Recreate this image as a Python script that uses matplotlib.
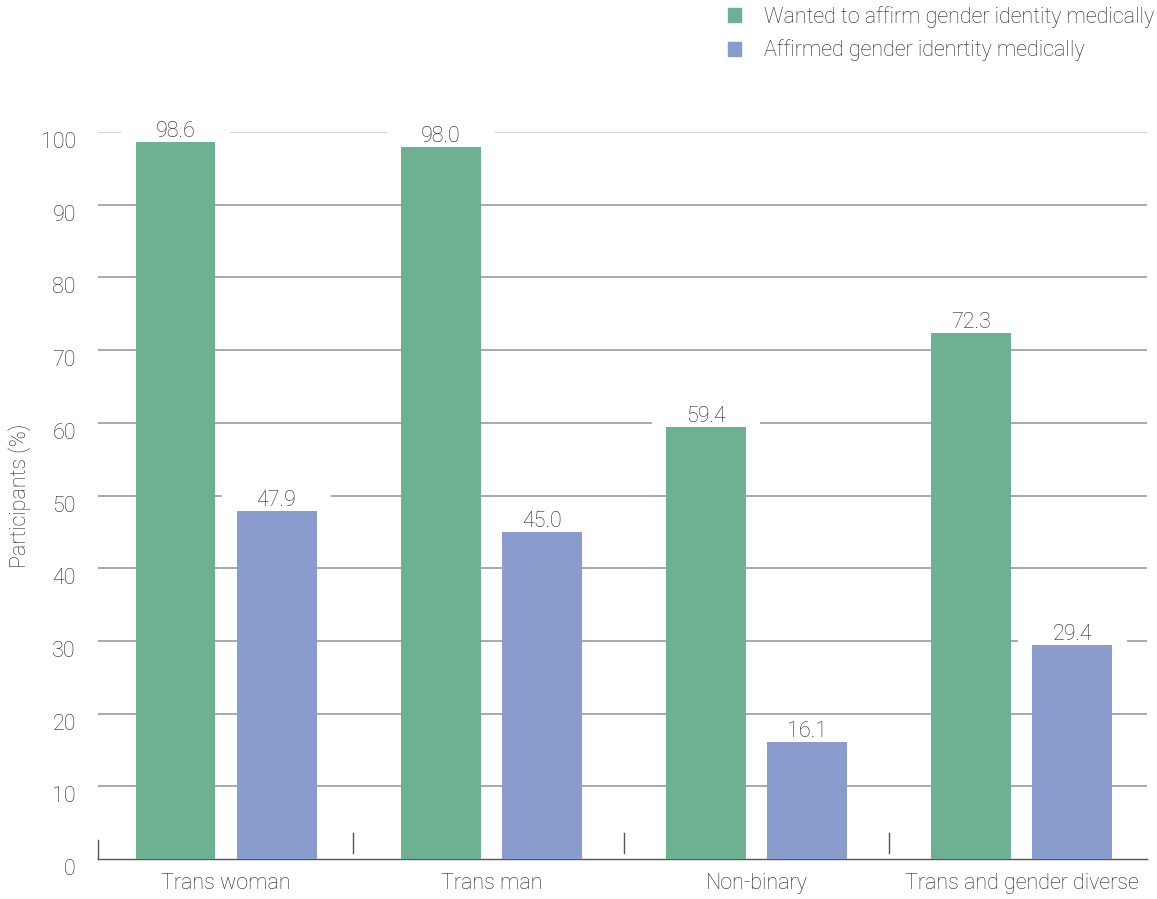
import matplotlib.pyplot as plt
from matplotlib.patches import Patch

# dados do gráfico
categorias = ['Trans woman', 'Trans man', 'Non-binary', 'Trans and gender diverse']
quiseram = [98.6, 98.0, 59.4, 72.3]
afirmaram = [47.9, 45.0, 16.1, 29.4]
nomes_series = ['Wanted to affirm gender identity medically',
                'Affirmed gender idenrtity medically']
yticks = list(range(0, 101, 10))

verde = '#6EB092'
roxo = '#8A9BCD'
cor_texto = '#222222'
fs = 15.5

plt.rcParams['font.family'] = ['Roboto', 'DejaVu Sans']
plt.rcParams['font.weight'] = 'light'
plt.rcParams['axes.labelweight'] = 'light'

fig = plt.figure(figsize=(11.57, 8.99), dpi=100)
ax = fig.add_axes([98 / 1157, 40 / 899, 1049 / 1157, 727 / 899])

x = list(range(len(categorias)))
largura = 0.3015
desloc = 0.1904

b1 = ax.bar([i - desloc for i in x], quiseram, width=largura, color=verde, zorder=3)
b2 = ax.bar([i + desloc for i in x], afirmaram, width=largura, color=roxo, zorder=3)

for barras, vals in [(b1, quiseram), (b2, afirmaram)]:
    for b, v in zip(barras, vals):
        ax.text(b.get_x() + b.get_width() / 2, v, f'{v:.1f}',
                ha='center', va='bottom', fontsize=fs, color=cor_texto,
                zorder=2, clip_on=False,
                bbox=dict(boxstyle='square,pad=1.6', fc='white', ec='none',
                          mutation_aspect=0.12))

# linhas de grade
for t in yticks[1:]:
    cor = '#cfcfcf' if t == 100 else '#a3a3a3'
    ax.axhline(t, color=cor, lw=1.3, zorder=0.5)

xmin, xmax = -0.4825, 3.4715
ax.set_xlim(xmin, xmax)
ax.set_ylim(0, 100)
ax.set_yticks(yticks)
ax.set_yticklabels([str(t) for t in yticks])
for lab in ax.get_yticklabels():
    lab.set_va('top')
ax.tick_params(axis='y', length=0, pad=16, labelsize=fs, labelcolor=cor_texto)
ax.set_xticks(x)
ax.set_xticklabels(categorias)
ax.tick_params(axis='x', length=0, pad=10, labelsize=fs, labelcolor=cor_texto)

for s in ['top', 'right', 'left']:
    ax.spines[s].set_visible(False)
ax.spines['bottom'].set_color('#555555')
ax.spines['bottom'].set_linewidth(1.0)

# separadores entre categorias
ax.axvline(xmin, ymin=0, ymax=0.026, color='#555555', lw=1.0, clip_on=False)
for sep in [0.48, 1.5, 2.5]:
    ax.axvline(sep, ymin=0.008, ymax=0.036, color='#555555', lw=1.0)

ax.set_ylabel('Participants (%)', fontsize=fs, color=cor_texto, va='center')
ax.yaxis.set_label_coords(-78 / 1049, 0.5)

handles = [Patch(color=verde), Patch(color=roxo)]
fig.legend(handles, nomes_series, loc='upper left',
           bbox_to_anchor=(728 / 1157, 1 - 6 / 899), frameon=False,
           fontsize=fs, labelcolor=cor_texto, handlelength=0.6,
           handleheight=0.6, handletextpad=1.05, labelspacing=0.55,
           borderpad=0, borderaxespad=0)

fig.savefig('out.png', dpi=100)
